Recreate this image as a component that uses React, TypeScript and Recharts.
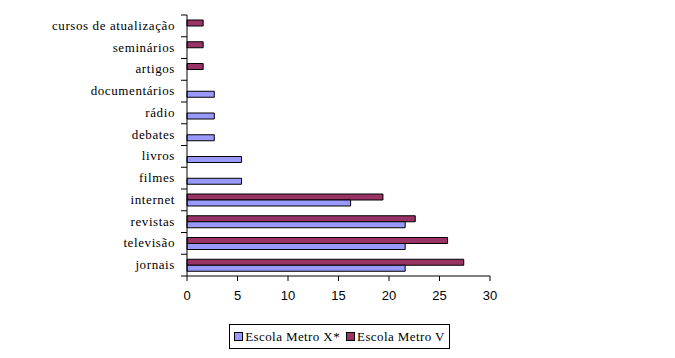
import { Bar, BarChart, XAxis, YAxis } from 'recharts';

const categories = [
  'cursos de atualização',
  'seminários',
  'artigos',
  'documentários',
  'rádio',
  'debates',
  'livros',
  'filmes',
  'internet',
  'revistas',
  'televisão',
  'jornais',
];
const metroX = [0, 0, 0, 2.7, 2.7, 2.7, 5.4, 5.4, 16.2, 21.6, 21.6, 21.6];
const metroV = [1.6, 1.6, 1.6, 0, 0, 0, 0, 0, 19.4, 22.6, 25.8, 27.4];
const xTicks = [0, 5, 10, 15, 20, 25, 30];

const COLOR_X = '#9999FF';
const COLOR_V = '#993366';
const SERIF = '"Liberation Serif", "Times New Roman", serif';

const data = categories.map((name, i) => ({
  name,
  x: metroX[i],
  v: metroV[i],
}));

const TOP = 15;
const PLOT_H = 261;
const HALF_BAND = PLOT_H / categories.length / 2;

function CategoryTick(props: any) {
  const { x, y, payload, index } = props;
  const isLast = index === categories.length - 1;
  return (
    <g>
      <line x1={x + 6} x2={x + 12} y1={y - HALF_BAND} y2={y - HALF_BAND} stroke='#000' />
      {isLast && (
        <line x1={x + 6} x2={x + 12} y1={y + HALF_BAND} y2={y + HALF_BAND} stroke='#000' />
      )}
      <text
        x={x}
        y={y}
        dy={4}
        textAnchor='end'
        style={{ fontFamily: SERIF, fontSize: 13, letterSpacing: 0.6 }}
        fill='#000'
      >
        {payload.value}
      </text>
    </g>
  );
}

export default function App() {
  return (
    <div style={{ position: 'absolute', left: 0, top: 0, width: 675, height: 358, background: '#fff' }}>
      <BarChart
        width={675}
        height={358}
        data={data}
        layout='vertical'
        margin={{ top: TOP, right: 185, bottom: 52, left: 0 }}
        barSize={6}
        barGap={0}
      >
        <XAxis
          type='number'
          domain={[0, 30]}
          ticks={xTicks}
          interval={0}
          height={30}
          axisLine={{ stroke: '#000' }}
          tickLine={{ stroke: '#000' }}
          tickSize={5}
          tick={{ fill: '#000', fontSize: 13, fontFamily: '"Liberation Sans", Arial, sans-serif' }}
          tickMargin={10}
        />
        <YAxis
          type='category'
          dataKey='name'
          width={187}
          axisLine={{ stroke: '#000' }}
          tickLine={false}
          tick={<CategoryTick />}
          tickMargin={6}
          interval={0}
        />
        <Bar dataKey='v' name='Escola Metro V' fill={COLOR_V} stroke='#000' strokeWidth={1} isAnimationActive={false} />
        <Bar dataKey='x' name='Escola Metro X*' fill={COLOR_X} stroke='#000' strokeWidth={1} isAnimationActive={false} />
      </BarChart>
      <div
        style={{
          position: 'absolute',
          left: 229,
          top: 324,
          width: 221,
          height: 25,
          border: '1px solid #000',
          boxSizing: 'border-box',
          display: 'flex',
          alignItems: 'center',
          justifyContent: 'center',
          gap: 6,
          fontFamily: SERIF,
          fontSize: 13,
          letterSpacing: 0.4,
          color: '#000',
        }}
      >
        {[
          { label: 'Escola Metro X*', color: COLOR_X },
          { label: 'Escola Metro V', color: COLOR_V },
        ].map((item) => (
          <span key={item.label} style={{ display: 'flex', alignItems: 'center', gap: 2 }}>
            <span
              style={{
                display: 'inline-block',
                width: 7,
                height: 7,
                background: item.color,
                border: '1px solid #000',
              }}
            />
            {item.label}
          </span>
        ))}
      </div>
    </div>
  );
}
